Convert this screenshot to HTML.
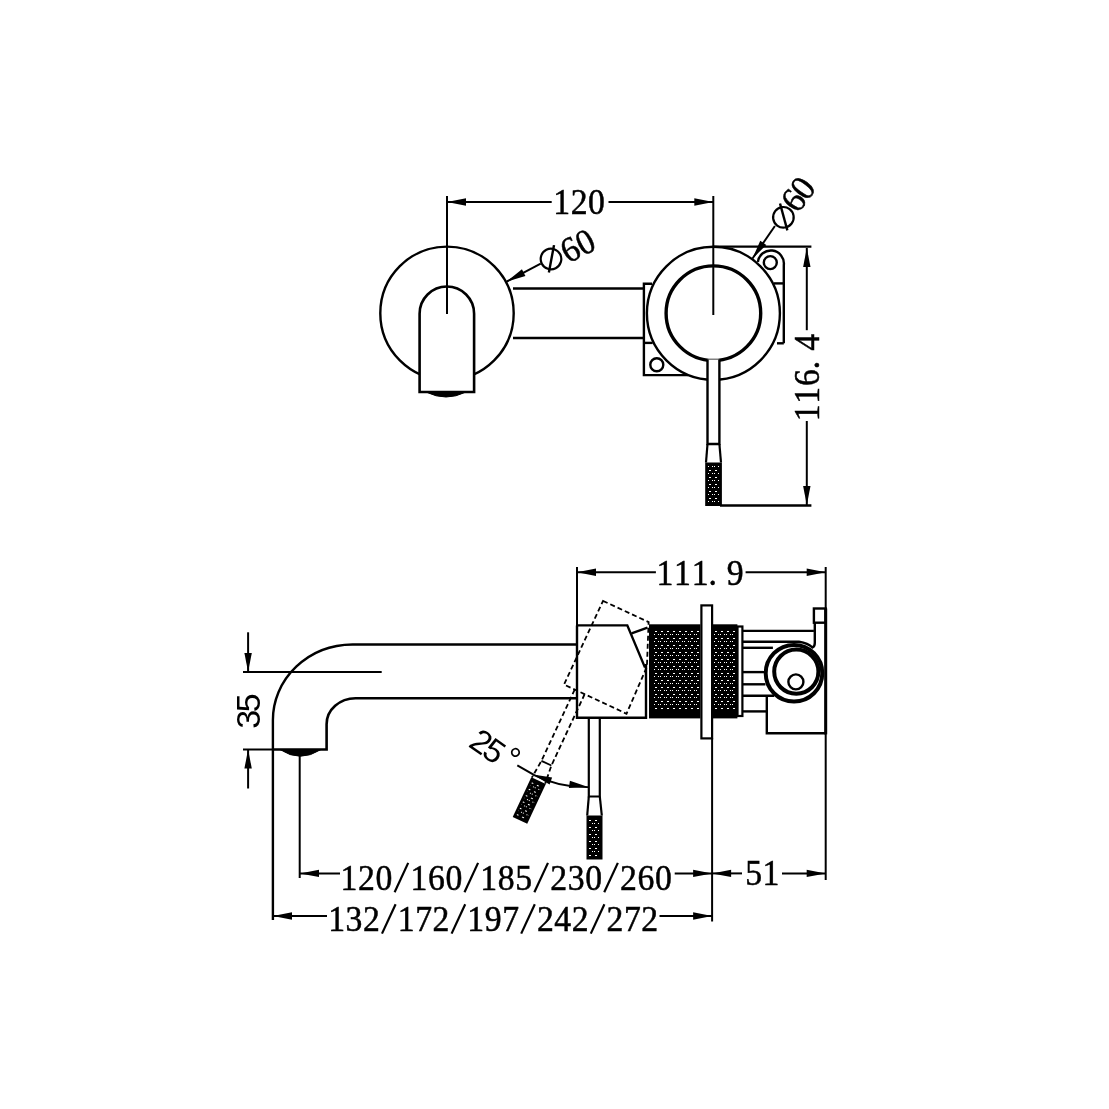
<!DOCTYPE html>
<html><head><meta charset="utf-8"><style>
html,body{margin:0;padding:0;background:#fff;width:1109px;height:1109px;overflow:hidden}
svg{display:block;will-change:transform}
</style></head><body>
<svg width="1109" height="1109" viewBox="0 0 1109 1109" stroke="#000" fill="none" stroke-linecap="butt">
<defs>
<pattern id="dots" x="0" y="0" width="6" height="7" patternUnits="userSpaceOnUse">
<rect x="1" y="1" width="2" height="1" fill="#fff" stroke="none"/>
<rect x="4" y="4" width="1" height="1" fill="#fff" stroke="none"/>
<rect x="0" y="4" width="1" height="1" fill="#fff" stroke="none"/>
</pattern>
<pattern id="knurl" x="0" y="0" width="6" height="7" patternUnits="userSpaceOnUse">
<rect width="6" height="7" fill="#000" stroke="none"/>
<rect x="1" y="1" width="2" height="1" fill="#fff" stroke="none"/>
<rect x="4" y="4" width="1" height="1" fill="#fff" stroke="none"/>
<rect x="0" y="4" width="1" height="1" fill="#fff" stroke="none"/>
</pattern>
</defs>
<rect x="0" y="0" width="1109" height="1109" fill="#fff" stroke="none"/>
<line x1="447" y1="196" x2="447" y2="314" stroke-width="2" />
<line x1="713.3" y1="196" x2="713.3" y2="315" stroke-width="2" />
<line x1="447" y1="202" x2="551.7" y2="202" stroke-width="2" />
<line x1="608.5" y1="202" x2="713.3" y2="202" stroke-width="2" />
<polygon points="447.00,202.00 466.00,198.30 466.00,205.70" fill="#000" stroke="none"/>
<polygon points="713.30,202.00 694.30,205.70 694.30,198.30" fill="#000" stroke="none"/>
<text x="0" y="0" transform="translate(561.70,214.20) rotate(0) scale(0.95,1)" text-anchor="middle" font-family="Liberation Serif" font-size="35.5" stroke="#000" stroke-width="0.5" fill="#000">1</text>
<text x="0" y="0" transform="translate(579.10,214.20) rotate(0) scale(0.95,1)" text-anchor="middle" font-family="Liberation Serif" font-size="35.5" stroke="#000" stroke-width="0.5" fill="#000">2</text>
<text x="0" y="0" transform="translate(596.50,214.20) rotate(0) scale(0.95,1)" text-anchor="middle" font-family="Liberation Serif" font-size="35.5" stroke="#000" stroke-width="0.5" fill="#000">0</text>
<circle cx="447" cy="313.3" r="66.7" fill="none" stroke-width="2.4" />
<line x1="513" y1="288.5" x2="643.5" y2="288.5" stroke-width="2.4" />
<line x1="513" y1="338" x2="643.5" y2="338" stroke-width="2.4" />
<path d="M419.6,392 L419.6,313.75 A27.25,27.25 0 0 1 474.1,313.75 L474.1,392 Z" fill="#fff" stroke-width="2.6" />
<path d="M426,392 Q446,402 466,392 Z" fill="#000" stroke-width="1" />
<line x1="447" y1="286" x2="447" y2="314" stroke-width="2" />
<line x1="506.9" y1="281.5" x2="540.7" y2="263.6" stroke-width="2" />
<polygon points="506.90,281.50 521.96,269.34 525.42,275.88" fill="#000" stroke="none"/>
<polyline points="652,283.7 643.9,283.7 643.9,375.1 688,375.1" fill="none" stroke-width="2.4" />
<line x1="643.9" y1="342.9" x2="652.7" y2="342.9" stroke-width="2.4" />
<circle cx="656.8" cy="364.7" r="6.5" fill="none" stroke-width="2.4" />
<path d="M757.9,262 A13,13 0 0 1 783.8,265 L783.8,343.3" fill="none" stroke-width="2.4" />
<line x1="774" y1="283.4" x2="783.8" y2="283.4" stroke-width="2.4" />
<line x1="777" y1="343.3" x2="783.8" y2="343.3" stroke-width="2.4" />
<circle cx="770.3" cy="262.6" r="6.5" fill="none" stroke-width="2.4" />
<circle cx="713.4" cy="313.3" r="66.5" fill="none" stroke-width="2.4" />
<circle cx="713.4" cy="313.2" r="47.3" fill="none" stroke-width="3.4" />
<line x1="713.3" y1="246.6" x2="811.4" y2="246.6" stroke-width="2.4" />
<line x1="720" y1="505.5" x2="811.4" y2="505.5" stroke-width="2.4" />
<line x1="806.8" y1="248" x2="806.8" y2="330.2" stroke-width="2" />
<line x1="806.8" y1="421" x2="806.8" y2="505" stroke-width="2" />
<polygon points="806.80,248.00 810.50,267.00 803.10,267.00" fill="#000" stroke="none"/>
<polygon points="806.80,505.00 803.10,486.00 810.50,486.00" fill="#000" stroke="none"/>
<text x="0" y="0" transform="translate(819.20,412.80) rotate(-90) scale(0.95,1)" text-anchor="middle" font-family="Liberation Serif" font-size="35.5" stroke="#000" stroke-width="0.5" fill="#000">1</text>
<text x="0" y="0" transform="translate(819.20,395.20) rotate(-90) scale(0.95,1)" text-anchor="middle" font-family="Liberation Serif" font-size="35.5" stroke="#000" stroke-width="0.5" fill="#000">1</text>
<text x="0" y="0" transform="translate(819.20,377.60) rotate(-90) scale(0.95,1)" text-anchor="middle" font-family="Liberation Serif" font-size="35.5" stroke="#000" stroke-width="0.5" fill="#000">6</text>
<text x="0" y="0" transform="translate(819.20,365.00) rotate(-90) scale(0.95,1)" text-anchor="middle" font-family="Liberation Serif" font-size="35.5" stroke="#000" stroke-width="0.5" fill="#000">.</text>
<text x="0" y="0" transform="translate(819.20,342.40) rotate(-90) scale(0.95,1)" text-anchor="middle" font-family="Liberation Serif" font-size="35.5" stroke="#000" stroke-width="0.5" fill="#000">4</text>
<path d="M707.5,359.5 L707.5,444 L719.4,444 L719.4,359.5" fill="#fff" stroke-width="2.4" />
<polyline points="707.5,444 706,462.5" fill="none" stroke-width="2.2" />
<polyline points="719.4,444 721,462.5" fill="none" stroke-width="2.2" />
<rect x="705.2" y="462.5" width="16.7" height="43.5" fill="#000" stroke="none"/>
<rect x="708" y="465" width="11" height="37" fill="url(#dots)" stroke="none"/>
<line x1="752.5" y1="258.5" x2="774.9" y2="226" stroke-width="2" />
<polygon points="752.50,258.50 760.24,240.76 766.33,244.96" fill="#000" stroke="none"/>
<g transform="translate(551,259) rotate(-27)">
<circle cx="0" cy="0" r="10.3" stroke-width="2.2" fill="none"/>
<line x1="9" y1="-11" x2="-8" y2="11" stroke-width="2.4"/>
</g>
<text x="0" y="0" transform="translate(575.60,259.93) rotate(-27) scale(0.95,1)" text-anchor="middle" font-family="Liberation Serif" font-size="35.5" stroke="#000" stroke-width="0.5" fill="#000">6</text>
<text x="0" y="0" transform="translate(590.48,252.35) rotate(-27) scale(0.95,1)" text-anchor="middle" font-family="Liberation Serif" font-size="35.5" stroke="#000" stroke-width="0.5" fill="#000">0</text>
<g transform="translate(783.4,217.3) rotate(-53)">
<circle cx="0" cy="0" r="10.3" stroke-width="2.2" fill="none"/>
<line x1="9" y1="-11" x2="-8" y2="11" stroke-width="2.4"/>
</g>
<text x="0" y="0" transform="translate(802.72,207.44) rotate(-53) scale(0.95,1)" text-anchor="middle" font-family="Liberation Serif" font-size="35.5" stroke="#000" stroke-width="0.5" fill="#000">6</text>
<text x="0" y="0" transform="translate(812.05,195.06) rotate(-53) scale(0.95,1)" text-anchor="middle" font-family="Liberation Serif" font-size="35.5" stroke="#000" stroke-width="0.5" fill="#000">0</text>
<line x1="577" y1="567" x2="577" y2="718" stroke-width="2" />
<line x1="825.7" y1="567" x2="825.7" y2="880" stroke-width="2" />
<line x1="577" y1="572.2" x2="655.9" y2="572.2" stroke-width="2" />
<line x1="745.6" y1="572.2" x2="825.7" y2="572.2" stroke-width="2" />
<polygon points="577.00,572.20 596.00,568.50 596.00,575.90" fill="#000" stroke="none"/>
<polygon points="825.70,572.20 806.70,575.90 806.70,568.50" fill="#000" stroke="none"/>
<text x="0" y="0" transform="translate(664.90,584.80) rotate(0) scale(0.95,1)" text-anchor="middle" font-family="Liberation Serif" font-size="35.5" stroke="#000" stroke-width="0.5" fill="#000">1</text>
<text x="0" y="0" transform="translate(682.50,584.80) rotate(0) scale(0.95,1)" text-anchor="middle" font-family="Liberation Serif" font-size="35.5" stroke="#000" stroke-width="0.5" fill="#000">1</text>
<text x="0" y="0" transform="translate(700.10,584.80) rotate(0) scale(0.95,1)" text-anchor="middle" font-family="Liberation Serif" font-size="35.5" stroke="#000" stroke-width="0.5" fill="#000">1</text>
<text x="0" y="0" transform="translate(712.70,584.80) rotate(0) scale(0.95,1)" text-anchor="middle" font-family="Liberation Serif" font-size="35.5" stroke="#000" stroke-width="0.5" fill="#000">.</text>
<text x="0" y="0" transform="translate(735.30,584.80) rotate(0) scale(0.95,1)" text-anchor="middle" font-family="Liberation Serif" font-size="35.5" stroke="#000" stroke-width="0.5" fill="#000">9</text>
<path d="M272.9,920 L272.9,720 A80,75.5 0 0 1 352.6,644.5 L577,644.5" fill="none" stroke-width="2.4" />
<path d="M577,698.2 L355.7,698.2 A29,26 0 0 0 326.6,724.2 L326.6,749.5 L272.9,749.5" fill="none" stroke-width="2.6" />
<path d="M280,749.5 Q300,763 321,749.5 Z" fill="#000" stroke-width="1" />
<line x1="299.7" y1="749.5" x2="299.7" y2="878" stroke-width="2" />
<line x1="243" y1="672.1" x2="381.7" y2="672.1" stroke-width="2" />
<line x1="243" y1="749.5" x2="272.9" y2="749.5" stroke-width="2" />
<line x1="248.1" y1="632.3" x2="248.1" y2="672" stroke-width="2" />
<line x1="248.1" y1="749.5" x2="248.1" y2="788.5" stroke-width="2" />
<polygon points="248.10,672.10 244.40,653.10 251.80,653.10" fill="#000" stroke="none"/>
<polygon points="248.10,749.50 251.80,768.50 244.40,768.50" fill="#000" stroke="none"/>
<text x="0" y="0" transform="translate(259.60,719.40) rotate(-90) scale(1,1)" text-anchor="middle" font-family="Liberation Sans" font-size="34" stroke="#000" stroke-width="0" fill="#000">3</text>
<text x="0" y="0" transform="translate(259.60,702.70) rotate(-90) scale(1,1)" text-anchor="middle" font-family="Liberation Sans" font-size="34" stroke="#000" stroke-width="0" fill="#000">5</text>
<polyline points="577,625.4 627.3,625.4 644.6,666.6 646,666.6" fill="none" stroke-width="2.4" />
<rect x="577" y="625.4" width="69" height="92.4" fill="none" stroke-width="0" />
<path d="M577,625.4 L577,717.8 L646,717.8 L646,664" fill="none" stroke-width="2.4" />
<line x1="631.6" y1="633.4" x2="647.5" y2="627.6" stroke-width="2.4" />
<rect x="649" y="624.3" width="51.4" height="94.1" fill="#000" stroke="none"/>
<rect x="712.1" y="624.3" width="25.3" height="94.1" fill="#000" stroke="none"/>
<rect x="653" y="628" width="46" height="83" fill="url(#dots)" stroke="none"/>
<rect x="713" y="628" width="22" height="83" fill="url(#dots)" stroke="none"/>
<rect x="701.4" y="605.4" width="10.7" height="133" fill="#fff" stroke-width="2.2"/>
<line x1="712.1" y1="738" x2="712.1" y2="921.5" stroke-width="2" />
<rect x="737.5" y="626.5" width="4.9" height="89.5" fill="#fff" stroke-width="2.2"/>
<line x1="742.4" y1="630.9" x2="813.9" y2="630.9" stroke-width="2.4" />
<line x1="742.4" y1="647.8" x2="772.9" y2="647.8" stroke-width="2.4" />
<line x1="742.4" y1="672.1" x2="764" y2="672.1" stroke-width="2.4" />
<line x1="742.4" y1="684.3" x2="765.4" y2="684.3" stroke-width="2.4" />
<line x1="742.4" y1="695.8" x2="774.2" y2="695.8" stroke-width="2.4" />
<line x1="742.4" y1="711.4" x2="766.8" y2="711.4" stroke-width="2.4" />
<rect x="813.9" y="608.5" width="11.8" height="14.2" fill="none" stroke-width="2.4"/>
<line x1="825.7" y1="608.5" x2="825.7" y2="734.4" stroke-width="3" />
<polyline points="766.8,695.8 766.8,733.2 825.7,733.2" fill="none" stroke-width="2.4" />
<circle cx="794" cy="673.2" r="28.3" fill="#fff" stroke-width="4" />
<circle cx="796.3" cy="671.6" r="22.1" fill="none" stroke-width="4" />
<circle cx="795.9" cy="681.9" r="7.5" fill="none" stroke-width="2.4" />
<path d="M742.4,641.7 L799,641.7 Q808,643 812.5,647.5 Q814.8,646.5 814.8,643 L814.8,622.7" fill="none" stroke-width="2.4" />
<path d="M588.8,717.8 L588.8,796.5 L599.8,796.5 L599.8,717.8" fill="none" stroke-width="2.2" />
<polyline points="588.8,796.5 587.2,815.5" fill="none" stroke-width="2.2" />
<polyline points="599.8,796.5 601.8,815.5" fill="none" stroke-width="2.2" />
<rect x="586.5" y="815.5" width="16" height="44" fill="#000" stroke="none"/>
<rect x="589" y="818" width="11" height="39" fill="url(#dots)" stroke="none"/>
<g transform="rotate(25 645.41 671.86)" stroke-dasharray="5 3">
<path d="M577,625.4 L627.3,625.4 L644.6,666.6 L646,717.8 L577,717.8 Z" fill="none" stroke-width="1.8" />
<path d="M588.8,717.8 L588.8,796.5 L587.2,815.5 M599.8,717.8 L599.8,796.5 L601.8,815.5" fill="none" stroke-width="1.8" />
</g>
<g transform="rotate(25 645.41 671.86)">
<polyline points="588.8,796.5 599.8,796.5" fill="none" stroke-width="1.8" />
<rect x="586.5" y="815.5" width="16" height="44" fill="#000" stroke="none"/>
<rect x="589" y="818" width="11" height="39" fill="url(#dots)" stroke="none"/>
</g>
<path d="M533,774.6 A 120 120 0 0 0 588.2,787.1" fill="none" stroke-width="1.8" />
<polygon points="533.00,774.60 552.12,777.62 549.59,784.58" fill="#000" stroke="none"/>
<polygon points="588.20,787.10 568.87,788.12 569.90,780.79" fill="#000" stroke="none"/>
<line x1="517.3" y1="765.4" x2="533.5" y2="774.6" stroke-width="2" />
<text x="0" y="0" transform="translate(474.80,751.10) rotate(35) scale(1,1)" text-anchor="middle" font-family="Liberation Sans" font-size="33" stroke="#000" stroke-width="0" fill="#000">2</text>
<text x="0" y="0" transform="translate(487.82,760.22) rotate(35) scale(1,1)" text-anchor="middle" font-family="Liberation Sans" font-size="33" stroke="#000" stroke-width="0" fill="#000">5</text>
<text x="0" y="0" transform="translate(504.90,767.50) rotate(35) scale(1,1)" text-anchor="middle" font-family="Liberation Sans" font-size="33" stroke="#000" stroke-width="0" fill="#000">°</text>
<line x1="300" y1="873.4" x2="340" y2="873.4" stroke-width="2" />
<polygon points="300.00,873.40 319.00,869.70 319.00,877.10" fill="#000" stroke="none"/>
<line x1="674.7" y1="873.4" x2="712.1" y2="873.4" stroke-width="2" />
<polygon points="712.10,873.40 693.10,877.10 693.10,869.70" fill="#000" stroke="none"/>
<line x1="712.1" y1="873.4" x2="742" y2="873.4" stroke-width="2" />
<polygon points="712.10,873.40 731.10,869.70 731.10,877.10" fill="#000" stroke="none"/>
<line x1="782" y1="873.4" x2="825.7" y2="873.4" stroke-width="2" />
<polygon points="825.70,873.40 806.70,877.10 806.70,869.70" fill="#000" stroke="none"/>
<text x="0" y="0" transform="translate(349.00,889.80) rotate(0) scale(0.95,1)" text-anchor="middle" font-family="Liberation Serif" font-size="35.5" stroke="#000" stroke-width="0.5" fill="#000">1</text>
<text x="0" y="0" transform="translate(366.47,889.80) rotate(0) scale(0.95,1)" text-anchor="middle" font-family="Liberation Serif" font-size="35.5" stroke="#000" stroke-width="0.5" fill="#000">2</text>
<text x="0" y="0" transform="translate(383.94,889.80) rotate(0) scale(0.95,1)" text-anchor="middle" font-family="Liberation Serif" font-size="35.5" stroke="#000" stroke-width="0.5" fill="#000">0</text>
<line x1="408.21" y1="862.90" x2="394.61" y2="892.20" stroke-width="2.2"/>
<text x="0" y="0" transform="translate(418.88,889.80) rotate(0) scale(0.95,1)" text-anchor="middle" font-family="Liberation Serif" font-size="35.5" stroke="#000" stroke-width="0.5" fill="#000">1</text>
<text x="0" y="0" transform="translate(436.35,889.80) rotate(0) scale(0.95,1)" text-anchor="middle" font-family="Liberation Serif" font-size="35.5" stroke="#000" stroke-width="0.5" fill="#000">6</text>
<text x="0" y="0" transform="translate(453.82,889.80) rotate(0) scale(0.95,1)" text-anchor="middle" font-family="Liberation Serif" font-size="35.5" stroke="#000" stroke-width="0.5" fill="#000">0</text>
<line x1="478.09" y1="862.90" x2="464.49" y2="892.20" stroke-width="2.2"/>
<text x="0" y="0" transform="translate(488.76,889.80) rotate(0) scale(0.95,1)" text-anchor="middle" font-family="Liberation Serif" font-size="35.5" stroke="#000" stroke-width="0.5" fill="#000">1</text>
<text x="0" y="0" transform="translate(506.23,889.80) rotate(0) scale(0.95,1)" text-anchor="middle" font-family="Liberation Serif" font-size="35.5" stroke="#000" stroke-width="0.5" fill="#000">8</text>
<text x="0" y="0" transform="translate(523.70,889.80) rotate(0) scale(0.95,1)" text-anchor="middle" font-family="Liberation Serif" font-size="35.5" stroke="#000" stroke-width="0.5" fill="#000">5</text>
<line x1="547.97" y1="862.90" x2="534.37" y2="892.20" stroke-width="2.2"/>
<text x="0" y="0" transform="translate(558.64,889.80) rotate(0) scale(0.95,1)" text-anchor="middle" font-family="Liberation Serif" font-size="35.5" stroke="#000" stroke-width="0.5" fill="#000">2</text>
<text x="0" y="0" transform="translate(576.11,889.80) rotate(0) scale(0.95,1)" text-anchor="middle" font-family="Liberation Serif" font-size="35.5" stroke="#000" stroke-width="0.5" fill="#000">3</text>
<text x="0" y="0" transform="translate(593.58,889.80) rotate(0) scale(0.95,1)" text-anchor="middle" font-family="Liberation Serif" font-size="35.5" stroke="#000" stroke-width="0.5" fill="#000">0</text>
<line x1="617.85" y1="862.90" x2="604.25" y2="892.20" stroke-width="2.2"/>
<text x="0" y="0" transform="translate(628.52,889.80) rotate(0) scale(0.95,1)" text-anchor="middle" font-family="Liberation Serif" font-size="35.5" stroke="#000" stroke-width="0.5" fill="#000">2</text>
<text x="0" y="0" transform="translate(645.99,889.80) rotate(0) scale(0.95,1)" text-anchor="middle" font-family="Liberation Serif" font-size="35.5" stroke="#000" stroke-width="0.5" fill="#000">6</text>
<text x="0" y="0" transform="translate(663.46,889.80) rotate(0) scale(0.95,1)" text-anchor="middle" font-family="Liberation Serif" font-size="35.5" stroke="#000" stroke-width="0.5" fill="#000">0</text>
<line x1="273" y1="916" x2="327" y2="916" stroke-width="2" />
<polygon points="273.00,916.00 292.00,912.30 292.00,919.70" fill="#000" stroke="none"/>
<line x1="659.5" y1="916" x2="712.1" y2="916" stroke-width="2" />
<polygon points="712.10,916.00 693.10,919.70 693.10,912.30" fill="#000" stroke="none"/>
<text x="0" y="0" transform="translate(336.60,931.20) rotate(0) scale(0.95,1)" text-anchor="middle" font-family="Liberation Serif" font-size="35.5" stroke="#000" stroke-width="0.5" fill="#000">1</text>
<text x="0" y="0" transform="translate(354.00,931.20) rotate(0) scale(0.95,1)" text-anchor="middle" font-family="Liberation Serif" font-size="35.5" stroke="#000" stroke-width="0.5" fill="#000">3</text>
<text x="0" y="0" transform="translate(371.40,931.20) rotate(0) scale(0.95,1)" text-anchor="middle" font-family="Liberation Serif" font-size="35.5" stroke="#000" stroke-width="0.5" fill="#000">2</text>
<line x1="395.60" y1="904.30" x2="382.00" y2="933.60" stroke-width="2.2"/>
<text x="0" y="0" transform="translate(406.20,931.20) rotate(0) scale(0.95,1)" text-anchor="middle" font-family="Liberation Serif" font-size="35.5" stroke="#000" stroke-width="0.5" fill="#000">1</text>
<text x="0" y="0" transform="translate(423.60,931.20) rotate(0) scale(0.95,1)" text-anchor="middle" font-family="Liberation Serif" font-size="35.5" stroke="#000" stroke-width="0.5" fill="#000">7</text>
<text x="0" y="0" transform="translate(441.00,931.20) rotate(0) scale(0.95,1)" text-anchor="middle" font-family="Liberation Serif" font-size="35.5" stroke="#000" stroke-width="0.5" fill="#000">2</text>
<line x1="465.20" y1="904.30" x2="451.60" y2="933.60" stroke-width="2.2"/>
<text x="0" y="0" transform="translate(475.80,931.20) rotate(0) scale(0.95,1)" text-anchor="middle" font-family="Liberation Serif" font-size="35.5" stroke="#000" stroke-width="0.5" fill="#000">1</text>
<text x="0" y="0" transform="translate(493.20,931.20) rotate(0) scale(0.95,1)" text-anchor="middle" font-family="Liberation Serif" font-size="35.5" stroke="#000" stroke-width="0.5" fill="#000">9</text>
<text x="0" y="0" transform="translate(510.60,931.20) rotate(0) scale(0.95,1)" text-anchor="middle" font-family="Liberation Serif" font-size="35.5" stroke="#000" stroke-width="0.5" fill="#000">7</text>
<line x1="534.80" y1="904.30" x2="521.20" y2="933.60" stroke-width="2.2"/>
<text x="0" y="0" transform="translate(545.40,931.20) rotate(0) scale(0.95,1)" text-anchor="middle" font-family="Liberation Serif" font-size="35.5" stroke="#000" stroke-width="0.5" fill="#000">2</text>
<text x="0" y="0" transform="translate(562.80,931.20) rotate(0) scale(0.95,1)" text-anchor="middle" font-family="Liberation Serif" font-size="35.5" stroke="#000" stroke-width="0.5" fill="#000">4</text>
<text x="0" y="0" transform="translate(580.20,931.20) rotate(0) scale(0.95,1)" text-anchor="middle" font-family="Liberation Serif" font-size="35.5" stroke="#000" stroke-width="0.5" fill="#000">2</text>
<line x1="604.40" y1="904.30" x2="590.80" y2="933.60" stroke-width="2.2"/>
<text x="0" y="0" transform="translate(615.00,931.20) rotate(0) scale(0.95,1)" text-anchor="middle" font-family="Liberation Serif" font-size="35.5" stroke="#000" stroke-width="0.5" fill="#000">2</text>
<text x="0" y="0" transform="translate(632.40,931.20) rotate(0) scale(0.95,1)" text-anchor="middle" font-family="Liberation Serif" font-size="35.5" stroke="#000" stroke-width="0.5" fill="#000">7</text>
<text x="0" y="0" transform="translate(649.80,931.20) rotate(0) scale(0.95,1)" text-anchor="middle" font-family="Liberation Serif" font-size="35.5" stroke="#000" stroke-width="0.5" fill="#000">2</text>
<text x="0" y="0" transform="translate(753.60,885.40) rotate(0) scale(0.95,1)" text-anchor="middle" font-family="Liberation Serif" font-size="35.5" stroke="#000" stroke-width="0.5" fill="#000">5</text>
<text x="0" y="0" transform="translate(771.00,885.40) rotate(0) scale(0.95,1)" text-anchor="middle" font-family="Liberation Serif" font-size="35.5" stroke="#000" stroke-width="0.5" fill="#000">1</text>
</svg>
</body></html>
